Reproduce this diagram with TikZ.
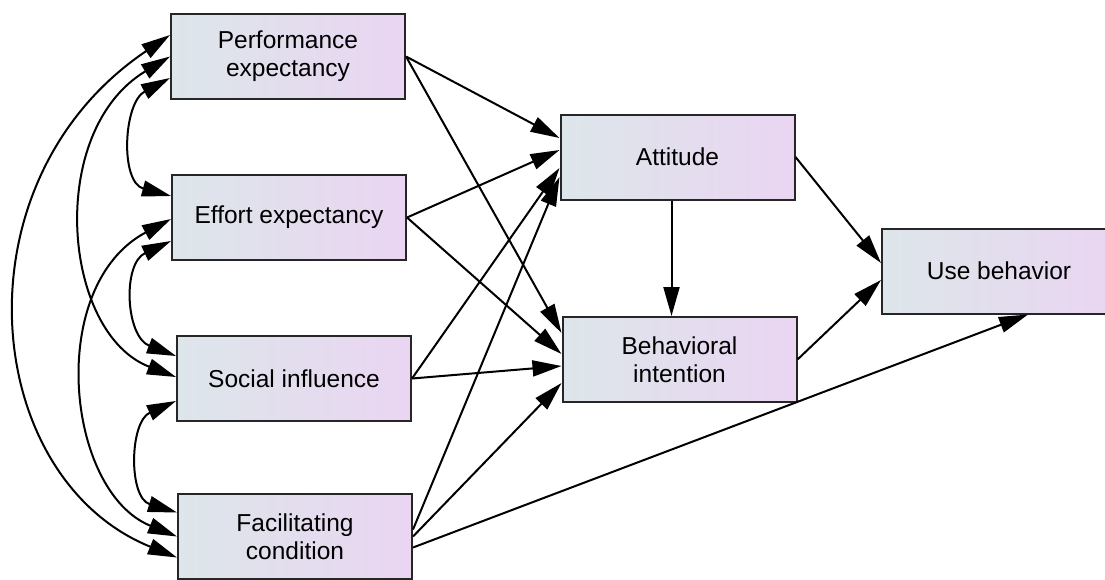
\documentclass[tikz,border=0pt]{standalone}
\usepackage{fontspec}
\setmainfont{Liberation Sans}
\usetikzlibrary{arrows.meta,calc}

\definecolor{boxl}{HTML}{DDE6EA}
\definecolor{boxr}{HTML}{EAD5F2}

\begin{document}
\begin{tikzpicture}[x=1pt, y=1pt, node distance = 161pt, line width=2pt,
    >={Triangle[length=29pt, width=16pt]},
    var/.style={rectangle, draw=black!85, left color=boxl, right color=boxr,
                minimum width=234pt, minimum height=85pt, inner sep=0pt,
                align=center, font=\fontsize{24.5}{28}\selectfont}]
  \useasboundingbox (0,0) rectangle (1105,-579);

  \node[var] at (288,-56.5) (pe) {Performance\\expectancy};
  \node[var, below of=pe, xshift=1pt] (ee) {Effort expectancy};
  \node[var, below of=ee, xshift=5pt] (si) {Social influence};
  \node[var, below of=si, xshift=1pt, yshift=3pt] (fc) {Facilitating\\condition};

  \node[var] at (677.5,-157) (att) {Attitude};
  \node[var] at (679.5,-359.5) (bi) {Behavioral\\intention};
  \node[var] at (999,-271) (ub) {Use behavior};

  % covariances
  \draw[<->] ([yshift=21.5pt]pe.west) to[out=214, in=158, out distance=262pt, in distance=212pt] ([yshift=-21pt]fc.west);
  \draw[<->] (pe.west) to[out=211, in=159, out distance=145pt, in distance=122pt] ([yshift=1.5pt]si.west);
  \draw[<->] ([yshift=-21.5pt]pe.west) to[out=208, in=165, distance=53pt] ([yshift=21.5pt]ee.west);
  \draw[<->] ([yshift=-1.5pt]ee.west) to[out=208, in=158, out distance=142pt, in distance=120pt] (fc.west);
  \draw[<->] ([yshift=-23.5pt]ee.west) to[out=205, in=159, distance=54pt] ([yshift=22.5pt]si.west);
  \draw[<->] ([yshift=-22.5pt]si.west) to[out=204, in=163, distance=51pt] ([yshift=24pt]fc.west);

  % paths
  \draw[->] (pe.east) -- ([yshift=19pt]att.west);
  \draw[->] (pe.east) -- ([yshift=26.5pt]bi.west);
  \draw[->] (ee.east) -- ([yshift=7pt]att.west);
  \draw[->] (ee.east) -- ([yshift=5.5pt]bi.west);
  \draw[->] (si.east) -- ([yshift=-11pt]att.west);
  \draw[->] (si.east) -- ([yshift=-6.5pt]bi.west);
  \draw[->] ([yshift=7pt]fc.east) -- ([yshift=-20pt]att.west);
  \draw[->] (fc.east) -- ([yshift=-23.5pt]bi.west);
  \draw[->] ([yshift=-11pt]fc.east) -- ([xshift=29pt]ub.south);
  \draw[->] ([xshift=-6pt]att.south) -- ([xshift=-6pt]att.south |- bi.north);
  \draw[->] (att.east) -- ([yshift=8pt]ub.west);
  \draw[->] (bi.east) -- ([yshift=-9pt]ub.west);

\end{tikzpicture}
\end{document}
